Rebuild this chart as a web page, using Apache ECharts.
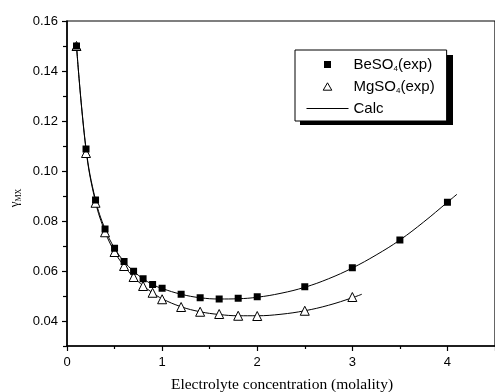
<!DOCTYPE html>
<html><head><meta charset="utf-8">
<script src="https://cdn.jsdelivr.net/npm/echarts@6/dist/echarts.min.js"></script>
<style>html,body{margin:0;padding:0;background:#fff}#c{width:495px;height:392px}</style>
</head><body><div id="c"></div>
<script>
// Experimental data
const beMolality = [0.1,0.2,0.3,0.4,0.5,0.6,0.7,0.8,0.9,1.0,1.2,1.4,1.6,1.8,2.0,2.5,3.0,3.5,4.0];
const beso4Exp   = [0.150,0.1088,0.0884,0.0768,0.0691,0.0638,0.0599,0.0569,0.0546,0.0531,0.0507,0.0493,0.0488,0.0491,0.0497,0.0537,0.0613,0.0724,0.0875];
const mgMolality = [0.1,0.2,0.3,0.4,0.5,0.6,0.7,0.8,0.9,1.0,1.2,1.4,1.6,1.8,2.0,2.5,3.0];
const mgso4Exp   = [0.150,0.1072,0.0873,0.0755,0.0676,0.0620,0.0576,0.0540,0.0513,0.0487,0.0456,0.0437,0.0428,0.0421,0.0420,0.0441,0.0496];
// Calculated curves
const calcBeX = [0.1,0.2,0.3,0.4,0.5,0.6,0.7,0.8,0.9,1.0,1.2,1.4,1.6,1.8,2.0,2.25,2.5,2.75,3.0,3.25,3.5,3.75,4.0,4.1];
const calcBe  = [0.150,0.1090,0.0884,0.0768,0.0691,0.0638,0.0599,0.0569,0.0546,0.0530,0.0507,0.0493,0.0488,0.0489,0.0495,0.0511,0.0535,0.0569,0.0612,0.0664,0.0724,0.0796,0.0875,0.0907];
const calcMgX = [0.1,0.2,0.3,0.4,0.5,0.6,0.7,0.8,0.9,1.0,1.2,1.4,1.6,1.8,2.0,2.25,2.5,2.75,3.0,3.1];
const calcMg  = [0.150,0.1085,0.0876,0.0757,0.0677,0.0620,0.0576,0.0541,0.0513,0.0489,0.0457,0.0437,0.0426,0.0421,0.0421,0.0427,0.0441,0.0463,0.0493,0.0507];
// Ticks
const yMajorTicks = [0.04,0.06,0.08,0.10,0.12,0.14,0.16];
const yMinorTicks = [0.03,0.05,0.07,0.09,0.11,0.13,0.15];
const xLabel = 'Electrolyte concentration (molality)';

const zip = (xs, ys) => xs.map((x, i) => [x, ys[i]]);
const chart = echarts.init(document.getElementById('c'), null, {renderer: 'canvas'});
const FONT = 'Liberation Sans, Arial, sans-serif';
const SERIF = '"Liberation Serif", "Times New Roman", serif';
const nameMap = {
  'BeSO4(exp)': 'BeSO{sub|4}(exp)',
  'MgSO4(exp)': 'MgSO{sub|4}(exp)',
  'Calc': 'Calc'
};
// legend icon paths drawn inside a 42x8 box (corner points fix the box)
const BOX = 'M0,0L0,0M42,8L42,8';
chart.setOption({
  animation: false,
  backgroundColor: '#fff',
  grid: {left: 67, right: -3, top: 21, bottom: 46, show: true, borderColor: '#000', borderWidth: 1.2, backgroundColor: 'transparent'},
  xAxis: {
    type: 'value', min: 0, max: 4.5, interval: 1,
    axisLine: {lineStyle: {color: '#000', width: 1.5}},
    axisTick: {show: true, length: 5, lineStyle: {color: '#000', width: 1.2}},
    minorTick: {show: true, splitNumber: 2, length: 3, lineStyle: {color: '#000', width: 1.2}},
    splitLine: {show: false}, minorSplitLine: {show: false},
    axisLabel: {color: '#000', fontSize: 13, fontFamily: FONT, margin: 10, showMaxLabel: false}
  },
  yAxis: [{
    type: 'value', min: 0.03, max: 0.16, position: 'left',
    axisLine: {lineStyle: {color: '#000', width: 1.5}},
    axisTick: {show: true, length: 5, customValues: yMajorTicks, lineStyle: {color: '#000', width: 1.2}},
    splitLine: {show: false},
    axisLabel: {color: '#000', fontSize: 13, fontFamily: FONT, margin: 9, customValues: yMajorTicks,
      formatter: v => v.toFixed(2)}
  }, {
    type: 'value', min: 0.03, max: 0.16, position: 'left',
    axisLine: {show: false},
    axisTick: {show: true, length: 4, customValues: yMinorTicks, lineStyle: {color: '#000', width: 1.2}},
    splitLine: {show: false},
    axisLabel: {show: false}
  }],
  legend: {
    orient: 'vertical', left: 295, top: 50, z: 10,
    padding: [6, 12, 4, 11], itemGap: 5,
    itemWidth: 42, itemHeight: 8,
    backgroundColor: '#fff', borderColor: '#000', borderWidth: 1,
    data: [
      {name: 'BeSO4(exp)', icon: 'path://' + BOX + 'M17.5,0.5H24.5V7.5H17.5Z'},
      {name: 'MgSO4(exp)', icon: 'path://' + BOX + 'M21,0.3L25.3,7.7H16.7Z',
        itemStyle: {color: '#fff', borderColor: '#000', borderWidth: 1}},
      {name: 'Calc', icon: 'path://' + BOX + 'M0,3.5H42V4.5H0Z', itemStyle: {color: '#000', borderWidth: 0}}
    ],
    formatter: n => nameMap[n],
    textStyle: {color: '#000', fontSize: 15, fontFamily: FONT, lineHeight: 17,
      rich: {sub: {fontSize: 8, fontFamily: FONT, color: '#000', padding: [9, 0, 0, 0], lineHeight: 17}}}
  },
  graphic: [
    // legend drop shadow
    {type: 'rect', z: 5, shape: {x: 300, y: 55, width: 153, height: 70}, style: {fill: '#000'}},
    {type: 'text', x: 282, y: 377, style: {text: xLabel, align: 'center', verticalAlign: 'top',
      font: '15.5px "Liberation Serif", "Times New Roman", serif', fill: '#000'}},
    {type: 'text', x: 15, y: 198, rotation: Math.PI / 2,
      style: {text: '{g|γ}{s|MX}', align: 'center', verticalAlign: 'middle',
        rich: {g: {fontSize: 13, fontFamily: SERIF, fill: '#000'},
               s: {fontSize: 8, fontFamily: SERIF, fill: '#000', padding: [7, 0, 0, 0]}}}}
  ],
  series: [
    {name: 'Calc', type: 'line', data: zip(calcBeX, calcBe), symbol: 'none', smooth: 0.4,
      lineStyle: {color: '#000', width: 1}, itemStyle: {color: '#000'}, z: 2},
    {name: 'Calc', type: 'line', data: zip(calcMgX, calcMg), symbol: 'none', smooth: 0.4,
      lineStyle: {color: '#000', width: 1}, itemStyle: {color: '#000'}, z: 2},
    {name: 'BeSO4(exp)', type: 'scatter', data: zip(beMolality, beso4Exp), symbol: 'rect', symbolSize: 7,
      itemStyle: {color: '#000', opacity: 1}, z: 4},
    {name: 'MgSO4(exp)', type: 'scatter', data: zip(mgMolality, mgso4Exp), symbol: 'triangle', symbolSize: 9,
      itemStyle: {color: '#fff', borderColor: '#000', borderWidth: 1, opacity: 1}, z: 3}
  ]
});
</script></body></html>
